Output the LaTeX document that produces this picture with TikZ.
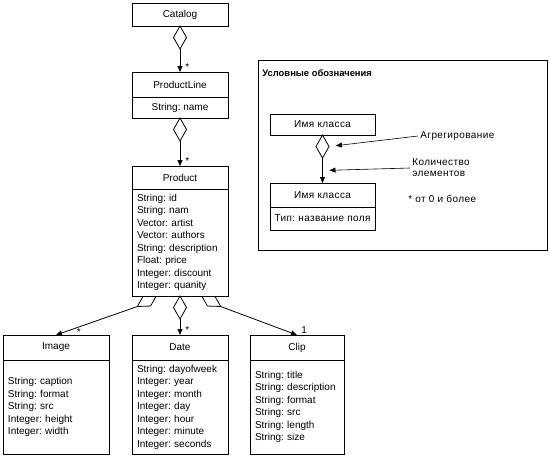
\documentclass[tikz,border=0pt]{standalone}
\usepackage{fontspec}
\setmainfont{Liberation Sans}
\newfontfamily\ru[LetterSpace=4]{Liberation Sans}
\usetikzlibrary{positioning,shapes.geometric,arrows.meta}

\tikzset{
  head/.style={draw, fill=white, inner sep=0pt, outer sep=0pt, minimum width=#1},
  body/.style={draw, fill=white, inner xsep=5pt, inner ysep=0pt, outer sep=0pt, align=left, text width=#1,
    execute at begin node={\hyphenpenalty=10000}},
  agg/.style={draw, diamond, fill=white, inner sep=0pt, outer sep=0pt, minimum width=13pt, minimum height=23pt},
  mult/.style={inner sep=1pt}
}

\begin{document}
\frenchspacing
\begin{tikzpicture}[x=1pt, y=-1pt, >={Triangle[length=6pt,width=5pt]}, line width=0.8pt,
  font=\fontsize{10}{12.5}\selectfont]
\useasboundingbox (0,0) rectangle (550,456);

% slanted diamonds first, the Product box covers their tips
\node(dl)[agg, rotate=-58.6, anchor=north] at (157,294.5){};
\node(dr)[agg, rotate=58.6, anchor=north] at (201,294.5){};

\node(catalog)[head=96pt, minimum height=23pt] at (180,14.5){Catalog};
\node(dcat)[agg, below=0pt of catalog]{};

\node(productline)[head=96pt, minimum height=25pt] at (180,84.5){ProductLine};
\node(plattr)[head=96pt, minimum height=21pt, below=0pt of productline]{String: name};
\node(dpl)[agg, below=0pt of plattr]{};

\node(product)[head=96pt, minimum height=23pt] at (180,177.5){Product};
\node(pattr)[body=86pt, minimum height=107pt, below=0pt of product]{String: id\\String: nam\\Vector: artist\\Vector: authors\\String: description\\Float: price\\Integer: discount\\Integer: quanity};
\node(dmid)[agg, below=0pt of pattr]{};

\node(image)[head=106pt, minimum height=25pt] at (56,347.5){Image};
\node(imattr)[body=96pt, minimum height=94pt, below=0pt of image]{String: caption\\String: format\\String: src\\Integer: height\\Integer: width};

\node(date)[head=96pt, minimum height=25pt] at (180,347.5){Date};
\node(dattr)[body=86pt, minimum height=94pt, below=0pt of date]{String: dayofweek\\Integer: year\\Integer: month\\Integer: day\\Integer: hour\\Integer: minute\\Integer: seconds};

\node(clip)[head=94pt, minimum height=25pt] at (297,347.5){Clip};
\node(cattr)[body=84pt, minimum height=94pt, below=0pt of clip]{String: title\\String: description\\String: format\\String: src\\String: length\\String: size};

\draw[->](dcat.south)--(productline.north)node[mult, above right, xshift=4pt]{*};
\draw[->](dpl.south)--(product.north)node[mult, above right, xshift=4pt]{*};
\draw[->](dmid.south)--(date.north)node[mult, above right, xshift=4pt]{*};
\draw[->](dl.south)--(image.north)node[mult, pos=.72, below]{*};
\draw[->](dr.south)--(clip.north)node[mult, above right, xshift=3pt]{1};

% legend
\draw (258,60) rectangle (547,250);
\node(legend)[anchor=west, inner sep=0pt, font=\fontsize{9.4}{12}\selectfont\bfseries] at (262,73){Условные обозначения};
\node(lclass)[head=105pt, minimum height=21pt, font=\ru] at (322.5,124.5){Имя класса};
\node(dleg)[agg, below=0pt of lclass]{};
\node(lclass2)[head=105pt, minimum height=24pt, font=\ru] at (322.5,195){Имя класса};
\node(lattr)[head=105pt, minimum height=23pt, font=\ru, below=0pt of lclass2]{Тип: название поля};
\draw[->](dleg.south)-- coordinate[midway](m) (lclass2.north);

\node(agr)[anchor=west, inner sep=2pt, font=\ru] at (418,136){Агрегирование};
\draw[->, line width=0.6pt, shorten >=7pt](agr.west)--(dleg.east);
\node(kol)[anchor=west, inner sep=2pt, align=left, font=\fontsize{10}{11}\ru] at (410,168){Количество\\элементов};
\draw[->, line width=0.6pt, shorten >=7pt](kol.west)--(m);
\node(star)[anchor=west, inner sep=0pt, font=\ru] at (408,199){* от 0 и более};

\end{tikzpicture}
\end{document}
